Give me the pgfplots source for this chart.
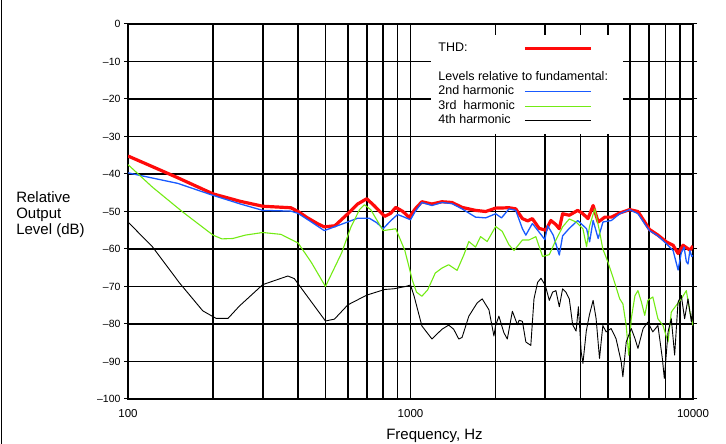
\documentclass[border=0pt]{standalone}
\usepackage{fontspec}
\setmainfont{Liberation Sans}
\usepackage{pgfplots}
\pgfplotsset{compat=1.18}
\definecolor{thdred}{RGB}{255,10,10}
\definecolor{hblue}{RGB}{25,90,255}
\definecolor{hgreen}{RGB}{115,235,20}

\begin{document}
\begin{tikzpicture}
\useasboundingbox (0,0) rectangle (726pt,444pt);
\draw[line width=1pt] (1.7pt,0) -- (1.7pt,444pt);
\begin{axis}[
  at={(128pt,45pt)}, anchor=south west,
  scale only axis, width=565pt, height=375pt,
  xmode=log, xmin=100, xmax=10000, ymin=-100, ymax=0,
  xtick={100,1000,10000}, xticklabels={100,1000,10000},
  ytick={-100,-90,...,0},
  yticklabels={--100,--90,--80,--70,--60,--50,--40,--30,--20,--10,0},
  grid=both,
  major grid style={black, line width=1.7pt},
  minor grid style={black, line width=1.7pt},
  axis line style={black, line width=1.7pt},
  tick align=outside,
  major tick length=4pt, minor tick length=0pt,
  xtick style={draw=none}, ytick style={black, line width=1pt},
  xticklabel style={font=\fontsize{11.5}{13}\selectfont, yshift=-3pt},
  yticklabel style={font=\fontsize{10.5}{12}\selectfont},
  xlabel={Frequency, Hz},
  ylabel={Relative\\Output\\Level (dB)},
  every axis x label/.style={at={(axis description cs:0.5425,-0.0987)}, anchor=center, font=\fontsize{15}{16}\selectfont},
  every axis y label/.style={at={(axis description cs:-0.204,0.4907)}, anchor=west, align=left, font=\fontsize{15}{16}\selectfont},
  legend plot pos=right,
  legend cell align=left,
  legend image code/.code={\draw[#1] (0pt,0pt) -- (66pt,0pt); \path (90pt,0pt);},
  legend style={at={(axis description cs:0.5363,0.971)}, anchor=north west,
    draw=none, fill=white, inner xsep=6pt, inner ysep=6pt,
    font=\fontsize{12.5}{14}\selectfont, column sep=7pt,
    nodes={text height=9pt, text depth=3pt, inner sep=1.25pt}},
]
\addlegendimage{thdred, line width=3.5pt}
\addlegendentry{THD:}
\addlegendimage{empty legend}
\addlegendentry{\strut}
\addlegendimage{empty legend}
\addlegendentry{\makebox[0pt][l]{Levels relative to fundamental:}}
\addlegendimage{hblue, line width=1.3pt}
\addlegendentry{2nd harmonic}
\addlegendimage{hgreen, line width=1.2pt}
\addlegendentry{3rd~ harmonic}
\addlegendimage{black, line width=0.9pt}
\addlegendentry{4th harmonic}

% THD
\addplot[forget plot, thdred, line width=3.2pt, line join=round] table {
100 -35.2
120 -37.8
150 -41.0
200 -45.3
250 -47.3
300 -48.6
377 -49.0
400 -50.0
430 -51.6
470 -53.3
495 -54.1
540 -53.8
600 -50.6
650 -48.0
700 -46.6
745 -48.5
810 -51.3
850 -50.5
887 -48.9
940 -50.0
990 -51.6
1039 -49.3
1097 -47.4
1191 -48.0
1292 -47.4
1403 -47.6
1522 -48.9
1699 -49.7
1845 -50.0
2002 -49.1
2232 -49.0
2358 -49.3
2490 -51.9
2600 -52.5
2700 -51.9
2853 -54.5
3014 -55.0
3140 -52.4
3272 -53.5
3363 -54.6
3455 -50.6
3648 -51.0
3909 -49.7
4077 -50.6
4249 -51.9
4430 -48.4
4617 -52.8
4874 -51.5
5142 -51.5
5502 -50.4
5967 -49.5
6385 -50.0
6747 -52.8
7015 -54.8
7514 -56.3
8050 -58.1
8503 -59.0
8854 -61.2
9221 -59.0
9750 -60.3
10000 -59.2
};
% 2nd harmonic
\addplot[forget plot, hblue, line width=1.3pt, line join=round] table {
100 -39.7
150 -42.5
200 -45.7
250 -48.0
300 -49.7
377 -49.9
400 -50.5
450 -53.0
495 -55.1
570 -53.4
650 -51.8
715 -51.8
760 -53.0
800 -54.6
850 -52.5
900 -50.8
950 -51.5
1000 -52.2
1039 -50.0
1097 -47.6
1191 -48.4
1292 -47.6
1403 -47.9
1522 -49.3
1699 -51.5
1845 -51.7
2002 -50.6
2100 -51.7
2232 -49.3
2358 -49.7
2490 -54.6
2560 -56.3
2700 -53.2
2853 -55.5
2990 -57.5
3060 -53.8
3200 -56.3
3363 -61.6
3455 -56.5
3648 -54.5
3909 -52.4
4200 -54.6
4305 -58.1
4430 -52.4
4617 -57.2
4800 -52.8
5142 -52.4
5502 -50.6
5967 -49.5
6385 -50.6
6747 -53.3
7015 -55.1
7514 -56.5
8050 -58.6
8503 -60.4
8854 -65.6
9090 -61.0
9300 -59.5
9473 -63.4
9600 -64.0
9750 -60.4
9900 -62.0
10000 -61.7
};
% 3rd harmonic
\addplot[forget plot, hgreen, line width=1.1pt, line join=round] table {
100 -37.5
122 -43.5
156 -50.1
200 -56.3
215 -57.3
235 -57.2
260 -56.3
300 -55.6
348 -56.1
400 -58.4
445 -63.5
500 -70.0
570 -61.1
615 -54.2
660 -49.5
687 -48.2
723 -49.5
800 -55.1
887 -54.6
955 -60.4
1015 -68.3
1050 -71.5
1097 -72.6
1150 -70.9
1224 -66.4
1292 -65.1
1365 -64.2
1462 -65.7
1544 -61.6
1609 -58.0
1699 -59.5
1770 -56.7
1868 -58.0
2002 -54.0
2113 -55.3
2232 -58.9
2325 -60.4
2490 -57.6
2627 -57.6
2777 -56.7
2934 -62.0
3100 -61.5
3272 -57.6
3455 -54.1
3648 -52.0
3856 -52.8
4077 -54.6
4200 -59.4
4300 -54.0
4490 -49.3
4662 -55.1
4795 -60.0
5000 -63.5
5273 -68.8
5502 -73.3
5646 -74.6
5802 -80.4
5920 -88.3
6045 -78.6
6232 -72.4
6385 -71.1
6571 -74.2
6747 -77.7
6919 -73.7
7207 -72.8
7514 -78.6
7830 -80.4
8160 -84.8
8380 -76.8
8730 -75.0
9090 -73.3
9470 -71.1
9750 -76.8
10000 -80.4
};
% 4th harmonic
\addplot[forget plot, black, line width=0.9pt, line join=round] table {
100 -52.8
122 -59.4
152 -69.0
184 -76.5
205 -78.5
226 -78.5
248 -75.2
300 -69.5
368 -67.2
388 -67.9
432 -72.7
500 -79.2
538 -78.7
600 -74.9
700 -72.3
810 -70.8
875 -70.6
960 -70.0
1000 -69.6
1030 -72.6
1097 -80.5
1191 -84.0
1292 -81.4
1365 -80.3
1422 -81.4
1482 -84.0
1522 -83.6
1609 -77.9
1721 -74.4
1794 -73.3
1895 -76.2
1974 -83.2
2000 -80.5
2055 -77.9
2140 -82.3
2201 -84.0
2294 -76.6
2390 -80.2
2423 -79.0
2490 -79.3
2560 -84.8
2666 -85.7
2736 -73.3
2818 -68.9
2897 -67.8
3000 -69.7
3100 -73.7
3185 -71.5
3272 -71.1
3363 -75.4
3455 -70.6
3550 -71.5
3648 -73.3
3750 -80.2
3856 -81.9
3930 -75.4
4020 -87.5
4077 -90.5
4190 -81.9
4300 -77.5
4430 -73.7
4540 -78.6
4667 -89.2
4795 -80.4
4925 -82.1
5130 -81.2
5340 -83.9
5570 -90.1
5646 -94.1
5802 -84.8
6045 -81.2
6232 -83.9
6385 -86.5
6660 -81.2
6919 -79.5
7207 -82.1
7514 -80.4
7790 -89.2
7917 -94.5
8160 -82.1
8380 -78.6
8610 -88.3
8850 -74.2
9090 -72.4
9340 -78.6
9600 -73.3
9870 -79.5
10000 -75.0
};
\end{axis}
\end{tikzpicture}
\end{document}
